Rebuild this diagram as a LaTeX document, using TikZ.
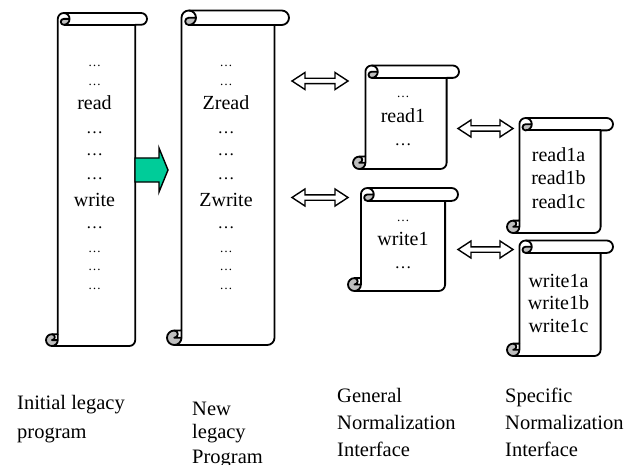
\documentclass[tikz,border=0pt]{standalone}
\usepackage{fontspec}
\setmainfont{Liberation Serif}
\usetikzlibrary{calc}
\definecolor{curlgray}{HTML}{BEBEBE}
\definecolor{arrowgreen}{HTML}{00CC99}

\tikzset{
  outline/.style={draw=black, line width=1.8pt, line join=round},
  blockarrow/.style={draw=black, line width=1.4pt, line join=miter},
  word/.style={anchor=base, inner sep=0pt, font=\fontsize{20}{22}\selectfont},
  smalldots/.style={anchor=base, inner sep=0pt, font=\fontsize{13}{15}\selectfont},
  bigdots/.style={anchor=base, inner sep=0pt, font=\fontsize{17}{19}\selectfont},
  caption/.style={anchor=base west, inner sep=0pt, font=\fontsize{20.5}{24}\selectfont},
}

% Vertical scroll: #1 left, #2 top, #3 right, #4 bottom, #5 curl size
\newcommand\vscroll[5]{%
  \pgfmathsetmacro\sL{#1}\pgfmathsetmacro\sT{#2}%
  \pgfmathsetmacro\sR{#3}\pgfmathsetmacro\sB{#4}%
  \pgfmathsetmacro\sc{#5}\pgfmathsetmacro\sh{#5/2}\pgfmathsetmacro\sq{#5/4}%
  % paper: body with bottom curl, then the top roll
  \fill[white] ({\sL+\sc},{\sT+\sh}) -- ({\sR-\sc},{\sT+\sh}) -- ({\sR-\sc},{\sB-\sh})
     arc[start angle=0,end angle=90,radius=\sh] -- ({\sL+\sh},\sB)
     arc[start angle=90,end angle=270,radius=\sh] -- ({\sL+\sc},{\sB-\sc}) -- cycle;
  \fill[white] ({\sL+1.5*\sc},\sT) -- ({\sR-\sh},\sT) arc[start angle=270,end angle=450,radius=\sh]
     -- ({\sL+1.5*\sc},{\sT+\sc}) arc[start angle=90,end angle=270,radius=\sh] -- cycle;
  % shaded undersides of the two curls
  \fill[curlgray] ({\sL+2*\sc},{\sT+\sh}) arc[start angle=0,end angle=90,radius=\sh]
     arc[start angle=90,end angle=270,radius=\sq] -- cycle;
  \fill[curlgray] ({\sL+\sc},{\sB-\sh}) arc[start angle=0,end angle=270,radius=\sh]
     arc[start angle=270,end angle=450,radius=\sq] -- cycle;
  % outlines
  \draw[outline] ({\sL+\sc},{\sB-\sc}) -- ({\sL+\sc},{\sT+\sh})
     arc[start angle=180,end angle=270,radius=\sh] -- ({\sR-\sh},\sT)
     arc[start angle=270,end angle=450,radius=\sh] -- ({\sR-\sc},{\sT+\sc})
     -- ({\sR-\sc},{\sB-\sh}) arc[start angle=0,end angle=90,radius=\sh]
     -- ({\sL+\sh},\sB) arc[start angle=90,end angle=270,radius=\sh] -- cycle;
  \draw[outline] ({\sL+1.5*\sc},\sT) arc[start angle=270,end angle=450,radius=\sh]
     arc[start angle=90,end angle=270,radius=\sq] -- ({\sL+2*\sc},{\sT+\sh});
  \draw[outline] ({\sR-\sc},{\sT+\sc}) -- ({\sL+1.5*\sc},{\sT+\sc});
  \draw[outline] ({\sL+\sh},{\sB-\sc}) arc[start angle=270,end angle=450,radius=\sq]
     -- ({\sL+\sc},{\sB-\sh});
  \draw[outline] ({\sL+\sh},\sB) arc[start angle=90,end angle=0,radius=\sh]
     -- ({\sL+\sc},{\sB-\sc});
}

% White double-headed block arrow between two points on one level
\newcommand\dblarrow[2]{%
  \draw[blockarrow, fill=white] let \p1=(#1), \p2=(#2) in
    (\x1,\y1) -- ({\x1+13pt},{\y1+8.5pt}) -- ({\x1+13pt},{\y1+2.7pt})
    -- ({\x2-13pt},{\y1+2.7pt}) -- ({\x2-13pt},{\y1+8.5pt}) -- (\x2,\y1)
    -- ({\x2-13pt},{\y1-8.5pt}) -- ({\x2-13pt},{\y1-2.7pt})
    -- ({\x1+13pt},{\y1-2.7pt}) -- ({\x1+13pt},{\y1-8.5pt}) -- cycle;
}

\begin{document}
\begin{tikzpicture}[x=1pt, y=-1pt]
\useasboundingbox (0,0) rectangle (639,465);
\clip (0,0) rectangle (639,465);

% scrolls
\vscroll{46}{13}{147}{346}{11.8}
\vscroll{167}{10.5}{289}{345}{14.5}
\vscroll{353}{65.5}{459}{169}{12.4}
\vscroll{348}{188}{458}{291}{12.9}
\vscroll{507}{118}{613}{233}{12.4}
\vscroll{507}{240.5}{613}{356}{12.4}

% initial legacy program
\node[smalldots] (p1) at (94.5,67) {…};
\node[smalldots] (p2) at (94.5,86) {…};
\node[word]      (p3) at (94.5,110) {read};
\node[bigdots]   (p4) at (94.5,134) {…};
\node[bigdots]   (p5) at (94.5,156) {…};
\node[bigdots]   (p6) at (94.5,179) {…};
\node[word]      (p7) at (94.5,206) {write};
\node[bigdots]   (p8) at (94.5,228) {…};
\node[smalldots] (p9) at (94.5,252) {…};
\node[smalldots] (p10) at (94.5,270) {…};
\node[smalldots] (p11) at (94.5,289) {…};

% new legacy program
\node[smalldots] (q1) at (226,67) {…};
\node[smalldots] (q2) at (226,86) {…};
\node[word]      (q3) at (226,110) {Zread};
\node[bigdots]   (q4) at (226,134) {…};
\node[bigdots]   (q5) at (226,156) {…};
\node[bigdots]   (q6) at (226,179) {…};
\node[word]      (q7) at (226,206) {Zwrite};
\node[bigdots]   (q8) at (226,228) {…};
\node[smalldots] (q9) at (226,252) {…};
\node[smalldots] (q10) at (226,270) {…};
\node[smalldots] (q11) at (226,289) {…};

% general normalization interface
\node[smalldots] (r1) at (403,98) {…};
\node[word]      (r2) at (403,123) {read1};
\node[bigdots]   (r3) at (403,146) {…};
\node[smalldots] (w1) at (403,221) {…};
\node[word]      (w2) at (403,245) {write1};
\node[bigdots]   (w3) at (403,268) {…};

% specific normalization interface
\node[word] (ra) at (558.5,162) {read1a};
\node[word] (rb) at (558.5,185) {read1b};
\node[word] (rc) at (558.5,208) {read1c};
\node[word] (wa) at (558.5,287) {write1a};
\node[word] (wb) at (558.5,309.5) {write1b};
\node[word] (wc) at (558.5,332) {write1c};

% transformation arrow
\coordinate (g1) at (135,170);
\coordinate (g2) at (168,170);
\draw[blockarrow, fill=arrowgreen] let \p1=(g1), \p2=(g2) in
  (\x1,{\y1+12pt}) -- ({\x2-9pt},{\y1+12pt}) -- ({\x2-9pt},{\y1+22pt}) -- (\x2,\y1)
  -- ({\x2-9pt},{\y1-22pt}) -- ({\x2-9pt},{\y1-12pt}) -- (\x1,{\y1-12pt}) -- cycle;

% links between the program and the interfaces
\coordinate (a1) at (292,81);    \coordinate (a2) at (348,81);
\coordinate (b1) at (292,197.5); \coordinate (b2) at (348,197.5);
\coordinate (c1) at (458,128.5); \coordinate (c2) at (513,128.5);
\coordinate (d1) at (458,249.5); \coordinate (d2) at (513,249.5);
\dblarrow{a1}{a2}
\dblarrow{b1}{b2}
\dblarrow{c1}{c2}
\dblarrow{d1}{d2}

% captions
\node[caption] (l1) at (17,409) {Initial legacy};
\node[caption] (l2) at (17,438.3) {program};
\node[caption] (m1) at (192,415) {New};
\node[caption] (m2) at (192,438.8) {legacy};
\node[caption] (m3) at (192,463.3) {Program};
\node[caption] (n1) at (337,402.3) {General};
\node[caption] (n2) at (337,429) {Normalization};
\node[caption] (n3) at (337,456.5) {Interface};
\node[caption] (s1) at (505,402.3) {Specific};
\node[caption] (s2) at (505,429) {Normalization};
\node[caption] (s3) at (505,456.5) {Interface};
\end{tikzpicture}
\end{document}
